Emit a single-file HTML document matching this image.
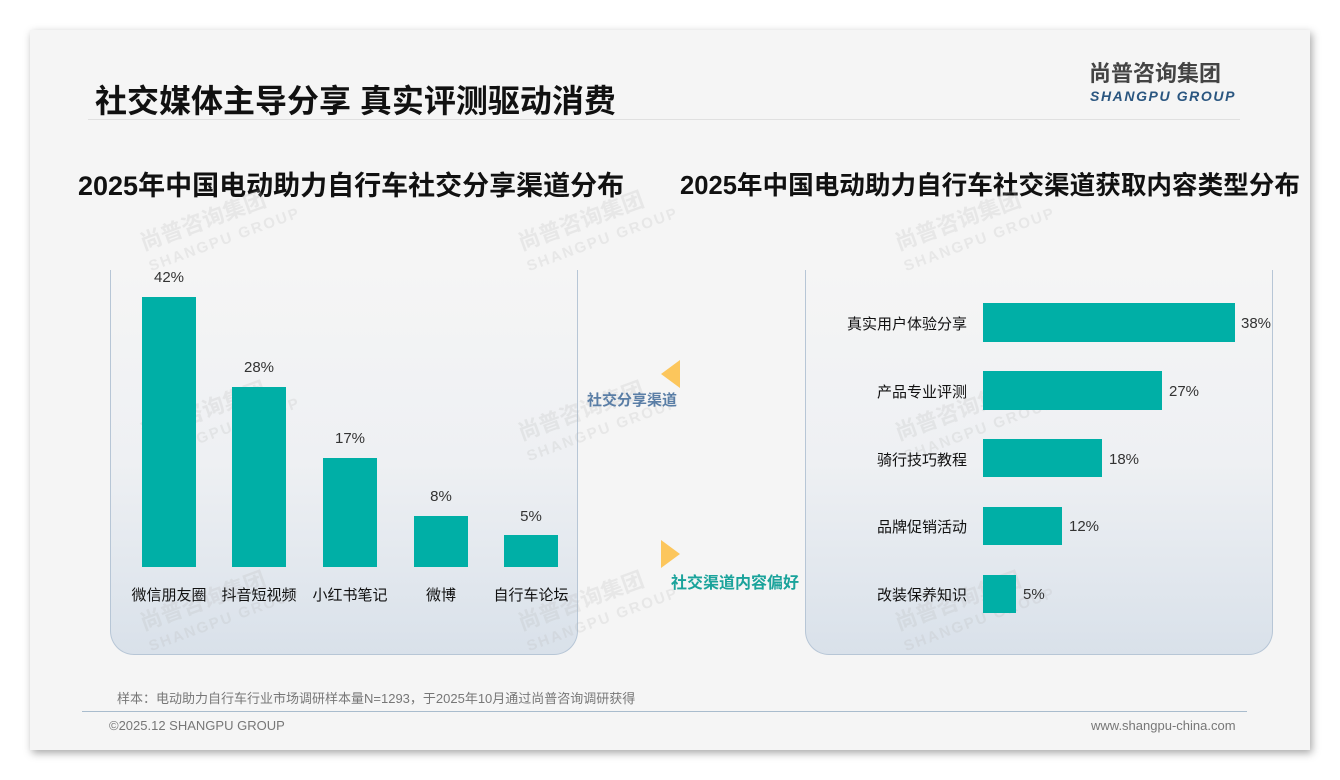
<!DOCTYPE html>
<html><head><meta charset="utf-8"><style>
*{margin:0;padding:0;box-sizing:border-box}
body{width:1340px;height:780px;background:#fff;position:relative;overflow:hidden;font-family:"Liberation Sans","Noto Sans CJK SC",sans-serif}
.a{position:absolute;white-space:nowrap}
#slide{position:absolute;left:30px;top:30px;width:1280px;height:720px;background:#f5f5f5;box-shadow:2px 3px 8px rgba(0,0,0,.35)}
.panel{position:absolute;top:270px;height:385px;border:1px solid #b7c6d6;border-top:none;border-radius:0 0 24px 24px;background:linear-gradient(#f5f5f5 0%,#eef0f3 50%,#d9e1ea 100%)}
.bar{position:absolute;background:#00afa6}
.lbl{position:absolute;font-size:15px;color:#333;text-align:center}
.cat{position:absolute;font-size:15px;color:#111;text-align:center}
.wm{position:absolute;color:rgba(180,180,180,.22);transform:rotate(-20deg);font-weight:bold;line-height:1}
</style></head><body>
<div id="slide"></div>
<div class="a" style="left:95px;top:76px;font-size:32px;font-weight:bold;color:#111">社交媒体主导分享 真实评测驱动消费</div>
<div class="a" style="left:88px;top:119px;width:1152px;height:1px;background:#e0e0e0"></div>
<div class="a" style="left:1089px;top:60px;font-size:22px;line-height:28px;font-weight:bold;color:#444">尚普咨询集团</div>
<div class="a" style="left:1090px;top:88px;font-size:14px;line-height:16px;font-weight:bold;font-style:italic;color:#2a5680;letter-spacing:1.6px">SHANGPU GROUP</div>
<div class="a" style="left:78px;top:164px;font-size:27px;font-weight:bold;color:#111">2025年中国电动助力自行车社交分享渠道分布</div>
<div class="a" style="left:680px;top:165px;font-size:25.6px;font-weight:bold;color:#111">2025年中国电动助力自行车社交渠道获取内容类型分布</div>
<div class="panel" style="left:110px;width:468px"></div>
<div class="panel" style="left:805px;width:468px"></div>
<!-- watermarks -->
<div class="wm" style="left:140px;top:205px;font-size:22px">尚普咨询集团<br><span style="font-size:15px;letter-spacing:2px">SHANGPU GROUP</span></div>
<div class="wm" style="left:518px;top:205px;font-size:22px">尚普咨询集团<br><span style="font-size:15px;letter-spacing:2px">SHANGPU GROUP</span></div>
<div class="wm" style="left:895px;top:205px;font-size:22px">尚普咨询集团<br><span style="font-size:15px;letter-spacing:2px">SHANGPU GROUP</span></div>
<div class="wm" style="left:140px;top:395px;font-size:22px">尚普咨询集团<br><span style="font-size:15px;letter-spacing:2px">SHANGPU GROUP</span></div>
<div class="wm" style="left:518px;top:395px;font-size:22px">尚普咨询集团<br><span style="font-size:15px;letter-spacing:2px">SHANGPU GROUP</span></div>
<div class="wm" style="left:895px;top:395px;font-size:22px">尚普咨询集团<br><span style="font-size:15px;letter-spacing:2px">SHANGPU GROUP</span></div>
<div class="wm" style="left:140px;top:585px;font-size:22px">尚普咨询集团<br><span style="font-size:15px;letter-spacing:2px">SHANGPU GROUP</span></div>
<div class="wm" style="left:518px;top:585px;font-size:22px">尚普咨询集团<br><span style="font-size:15px;letter-spacing:2px">SHANGPU GROUP</span></div>
<div class="wm" style="left:895px;top:585px;font-size:22px">尚普咨询集团<br><span style="font-size:15px;letter-spacing:2px">SHANGPU GROUP</span></div>
<!-- left chart -->
<div class="bar" style="left:142px;top:297px;width:54px;height:270px"></div>
<div class="bar" style="left:232px;top:387px;width:54px;height:180px"></div>
<div class="bar" style="left:323px;top:458px;width:54px;height:109px"></div>
<div class="bar" style="left:414px;top:516px;width:54px;height:51px"></div>
<div class="bar" style="left:504px;top:535px;width:54px;height:32px"></div>
<div class="lbl" style="left:139px;top:269px;width:60px">42%</div>
<div class="lbl" style="left:229px;top:359px;width:60px">28%</div>
<div class="lbl" style="left:320px;top:430px;width:60px">17%</div>
<div class="lbl" style="left:411px;top:488px;width:60px">8%</div>
<div class="lbl" style="left:501px;top:508px;width:60px">5%</div>
<div class="cat" style="left:119px;top:584px;width:100px">微信朋友圈</div>
<div class="cat" style="left:209px;top:584px;width:100px">抖音短视频</div>
<div class="cat" style="left:300px;top:584px;width:100px">小红书笔记</div>
<div class="cat" style="left:391px;top:584px;width:100px">微博</div>
<div class="cat" style="left:481px;top:584px;width:100px">自行车论坛</div>
<!-- middle -->
<div class="a" style="left:661px;top:360px;width:0;height:0;border-top:14px solid transparent;border-bottom:14px solid transparent;border-right:19px solid #fcc65c"></div>
<div class="a" style="left:587px;top:389px;font-size:15px;font-weight:bold;color:#5a7ea6">社交分享渠道</div>
<div class="a" style="left:661px;top:540px;width:0;height:0;border-top:14px solid transparent;border-bottom:14px solid transparent;border-left:19px solid #fcc65c"></div>
<div class="a" style="left:671px;top:569px;font-size:16px;font-weight:bold;color:#1aa39b">社交渠道内容偏好</div>
<!-- right chart -->
<div class="bar" style="left:983px;top:303px;width:252px;height:39px"></div>
<div class="bar" style="left:983px;top:371px;width:179px;height:39px"></div>
<div class="bar" style="left:983px;top:439px;width:119px;height:38px"></div>
<div class="bar" style="left:983px;top:507px;width:79px;height:38px"></div>
<div class="bar" style="left:983px;top:575px;width:33px;height:38px"></div>
<div class="lbl" style="left:1241px;top:315px;text-align:left">38%</div>
<div class="lbl" style="left:1169px;top:383px;text-align:left">27%</div>
<div class="lbl" style="left:1109px;top:451px;text-align:left">18%</div>
<div class="lbl" style="left:1069px;top:518px;text-align:left">12%</div>
<div class="lbl" style="left:1023px;top:586px;text-align:left">5%</div>
<div class="cat" style="left:767px;top:313px;width:200px;text-align:right">真实用户体验分享</div>
<div class="cat" style="left:767px;top:381px;width:200px;text-align:right">产品专业评测</div>
<div class="cat" style="left:767px;top:449px;width:200px;text-align:right">骑行技巧教程</div>
<div class="cat" style="left:767px;top:516px;width:200px;text-align:right">品牌促销活动</div>
<div class="cat" style="left:767px;top:584px;width:200px;text-align:right">改装保养知识</div>
<!-- footer -->
<div class="a" style="left:117px;top:688px;font-size:13px;color:#777">样本：电动助力自行车行业市场调研样本量N=1293，于2025年10月通过尚普咨询调研获得</div>
<div class="a" style="left:82px;top:711px;width:1165px;height:1px;background:#a9bccd"></div>
<div class="a" style="left:109px;top:718px;font-size:13px;color:#777">©2025.12 SHANGPU GROUP</div>
<div class="a" style="left:1091px;top:718px;font-size:13px;color:#777">www.shangpu-china.com</div>
</body></html>
